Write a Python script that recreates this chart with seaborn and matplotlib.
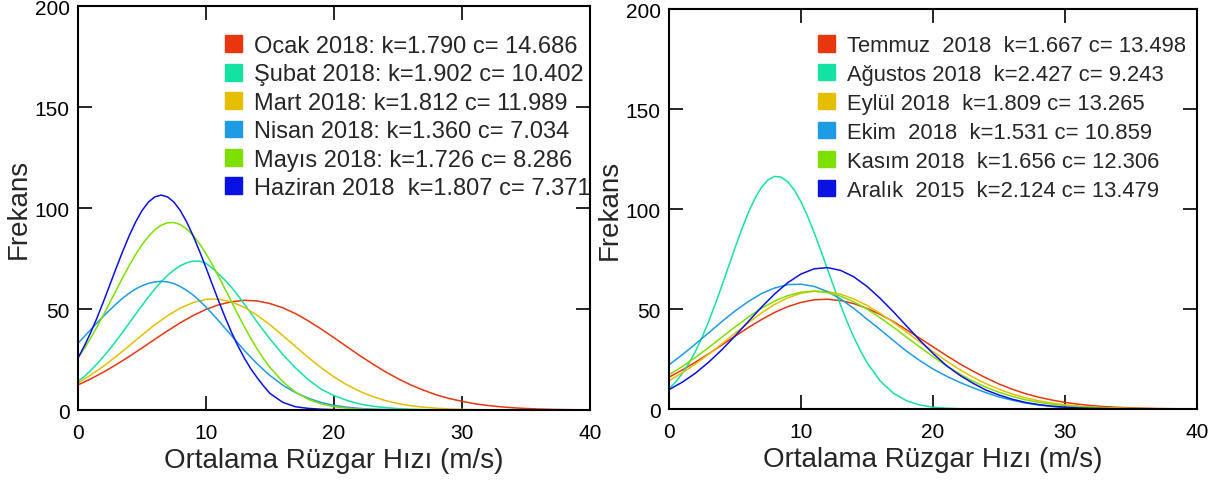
import matplotlib
matplotlib.use("Agg")
import matplotlib.pyplot as plt
from matplotlib.patches import Patch
import seaborn as sns
import pandas as pd

# ---------------- data ----------------
# integer grid (broad curves)
hiz = list(range(0, 41))
# finer grid: half steps up to 15, then integers (sharper curves)
hiz_ince = [0, 0.5, 1, 1.5, 2, 2.5, 3, 3.5, 4, 4.5, 5, 5.5, 6, 6.5, 7, 7.5, 8, 8.5, 9, 9.5,
            10, 10.5, 11, 11.5, 12, 12.5, 13, 13.5, 14, 14.5, 15,
            16, 17, 18, 19, 20, 21, 22, 23, 24, 25, 26, 27, 28, 29, 30,
            31, 32, 33, 34, 35, 36, 37, 38, 39, 40]

ocak = [12.4, 15.4, 18.8, 22.5, 26.5, 30.7, 35.0, 39.2, 43.2, 46.8, 49.8, 52.1, 53.6, 54.3, 54.0,
        52.7, 50.6, 47.7, 44.1, 40.1, 35.8, 31.4, 27.0, 22.9, 19.0, 15.5, 12.4, 9.8, 7.5, 5.7,
        4.3, 3.1, 2.25, 1.6, 1.1, 0.75, 0.5, 0.32, 0.2, 0.13, 0.08]
subat = [14.2, 16.6, 19.6, 22.9, 26.5, 30.3, 34.4, 38.6, 43.0, 47.4, 51.7, 55.9, 59.9, 63.5, 66.7,
         69.3, 71.4, 72.9, 73.7, 73.7, 72.6, 70.2, 67.3, 64.2, 60.7, 56.7, 52.4, 48.0, 43.5, 39.3,
         35.2, 27.5, 20.8, 15.0, 10.3, 7.1, 4.8, 3.0, 1.9, 1.2, 0.7, 0.4, 0.2, 0.1, 0.05,
         0, 0, 0, 0, 0, 0, 0, 0, 0, 0, 0]
mart = [13.4, 17.3, 21.7, 26.6, 31.8, 37.1, 42.2, 46.7, 50.5, 53.2, 54.8, 54.9, 53.5, 50.8, 46.9,
        42.2, 36.9, 31.4, 26.0, 20.9, 16.4, 12.5, 9.3, 6.7, 4.7, 3.2, 2.1, 1.4, 0.87, 0.53,
        0.32, 0.18, 0.1, 0.05, 0, 0, 0, 0, 0, 0, 0]
nisan = [33.0, 36.4, 39.8, 43.2, 46.5, 49.6, 52.6, 55.4, 57.8, 59.9, 61.5, 62.7, 63.4, 63.7, 63.4,
         62.6, 61.1, 59.2, 56.9, 54.1, 51.0, 47.6, 44.1, 40.4, 36.8, 33.1, 29.5, 26.1, 22.9, 19.9,
         17.1, 12.3, 8.6, 5.8, 3.7, 2.3, 1.4, 0.8, 0.45, 0.25, 0.13, 0.07,
         0, 0, 0, 0, 0, 0, 0, 0, 0, 0, 0, 0, 0, 0]
mayis = [25.7, 30.5, 35.7, 41.3, 47.2, 53.3, 59.5, 65.6, 71.5, 76.9, 81.8, 85.9, 89.2, 91.5, 92.7,
         92.8, 91.8, 89.6, 86.4, 82.3, 77.4, 71.9, 66.0, 59.8, 53.5, 47.3, 41.2, 35.5, 30.2, 25.4,
         21.1, 14.0, 8.8, 5.3, 3.0, 1.6, 0.9, 0.45, 0.2, 0.1,
         0, 0, 0, 0, 0, 0, 0, 0, 0, 0, 0, 0, 0, 0, 0, 0]
haziran = [25.7, 31.7, 38.4, 45.8, 53.8, 62.1, 70.5, 78.6, 86.2, 93.0, 98.7, 102.9, 105.5, 106.4, 105.5,
           102.9, 98.7, 93.0, 86.2, 78.6, 70.5, 62.1, 53.8, 45.8, 38.4, 31.7, 25.7, 20.4, 16.0, 11.9,
           8.2, 3.8, 1.6, 0.8, 0.4, 0.2, 0.1,
           0, 0, 0, 0, 0, 0, 0, 0, 0, 0, 0, 0, 0, 0, 0, 0, 0, 0, 0]

temmuz = [15.9, 19.5, 23.4, 27.6, 32.0, 36.4, 40.7, 44.7, 48.3, 51.2, 53.3, 54.6, 54.9, 54.2, 52.7,
          50.3, 47.3, 43.7, 39.6, 35.4, 31.1, 26.8, 22.7, 19.0, 15.6, 12.5, 9.9, 7.7, 5.9, 4.5,
          3.3, 2.4, 1.7, 1.2, 0.84, 0.57, 0.38, 0.25, 0.16, 0.1, 0.06]
agustos = [10.1, 13.5, 17.7, 22.8, 28.8, 35.8, 43.7, 52.4, 61.6, 71.1, 80.6, 89.7, 98.1, 105.2, 110.8,
           114.6, 116.3, 115.9, 113.6, 109.4, 103.6, 96.4, 88.1, 79.2, 70.0, 60.8, 51.9, 43.5, 35.9, 29.1,
           23.2, 14.0, 7.9, 4.1, 2.0, 0.9, 0.4, 0.15, 0.06,
           0, 0, 0, 0, 0, 0, 0, 0, 0, 0, 0, 0, 0, 0, 0, 0, 0]
eylul = [14.2, 18.1, 22.5, 27.4, 32.6, 37.9, 43.1, 48.0, 52.3, 55.6, 57.9, 58.9, 58.7, 57.4, 55.0,
         51.8, 47.8, 43.3, 38.5, 33.5, 28.7, 24.1, 19.8, 16.0, 12.7, 9.9, 7.5, 5.6, 4.1, 3.0,
         2.1, 1.5, 1.0, 0.65, 0.42, 0.27, 0.17, 0.1, 0.06, 0.04, 0.02]
ekim = [22.1, 27.1, 32.5, 38.1, 43.7, 49.0, 53.7, 57.7, 60.5, 62.2, 62.4, 61.3, 58.7, 55.0, 50.3,
        44.9, 39.7, 34.2, 28.9, 24.2, 20.0, 16.5, 13.4, 10.7, 8.2, 6.0, 4.4, 3.0, 2.0, 1.3,
        0.8, 0.5, 0.3, 0.18, 0.1, 0.06, 0.03, 0, 0, 0, 0]
kasim = [17.1, 21.2, 25.8, 30.7, 35.9, 41.0, 45.9, 50.3, 54.0, 56.7, 58.4, 58.9, 58.2, 56.4, 53.6,
         50.0, 45.6, 40.9, 35.9, 31.0, 26.2, 21.7, 17.6, 14.0, 10.9, 8.4, 6.3, 4.6, 3.35, 2.4,
         1.65, 1.1, 0.75, 0.5, 0.32, 0.2, 0.13, 0.08, 0.05, 0.03, 0.02]
aralik = [9.7, 13.4, 17.9, 23.4, 29.6, 36.5, 43.7, 50.9, 57.5, 63.2, 67.5, 70.1, 70.7, 69.3, 66.1,
          61.3, 55.3, 48.6, 41.5, 34.4, 27.8, 21.8, 17.0, 13.0, 9.5, 7.0, 4.9, 3.3, 2.2, 1.4,
          0.9, 0.55, 0.33, 0.2, 0.11, 0.06, 0.03, 0, 0, 0, 0]

labels_left = ["Ocak 2018: k=1.790 c= 14.686",
               "Şubat 2018: k=1.902 c= 10.402",
               "Mart 2018: k=1.812 c= 11.989",
               "Nisan 2018: k=1.360 c= 7.034",
               "Mayıs 2018: k=1.726 c= 8.286",
               "Haziran 2018  k=1.807 c= 7.371"]
labels_right = ["Temmuz  2018  k=1.667 c= 13.498",
                "Ağustos 2018  k=2.427 c= 9.243",
                "Eylül 2018  k=1.809 c= 13.265",
                "Ekim  2018  k=1.531 c= 10.859",
                "Kasım 2018  k=1.656 c= 12.306",
                "Aralık  2015  k=2.124 c= 13.479"]

colors = ["#E8360E", "#14E2A2", "#E6BE00", "#1D9BE5", "#7EE000", "#0A12E2"]

x_ticks = [0, 10, 20, 30, 40]
y_ticks = [0, 50, 100, 150, 200]
x_label = "Ortalama Rüzgar Hızı (m/s)"
y_label = "Frekans"

# ---------------- style ----------------
sns.set_style("ticks")
plt.rcParams["font.family"] = ["Liberation Sans", "DejaVu Sans"]

fig = plt.figure(figsize=(12.2, 4.81), dpi=100)
ax1 = fig.add_axes([0.0639, 0.1455, 0.4197, 0.8399])
ax2 = fig.add_axes([0.5484, 0.1476, 0.4327, 0.8316])


def long_df(series, labels):
    rows = []
    for (xs, vals), lab in zip(series, labels):
        for xv, yv in zip(xs, vals):
            rows.append({"hiz": xv, "frekans": yv, "seri": lab})
    return pd.DataFrame(rows)


def draw(ax, series, labels, leg_x, leg_y, leg_fs, leg_sp):
    df = long_df(series, labels)
    sns.lineplot(data=df, x="hiz", y="frekans", hue="seri", hue_order=labels,
                 palette=colors, linewidth=1.1, legend=False, ax=ax)
    ax.set_xlim(0, 40)
    ax.set_ylim(0, 200)
    ax.set_xticks(x_ticks)
    ax.set_yticks(y_ticks)
    ax.set_xlabel(x_label, fontsize=20, labelpad=4)
    ax.set_ylabel(y_label, fontsize=20, labelpad=2)
    ax.tick_params(direction="in", top=True, right=True, length=10, width=1.2,
                   labelsize=15, pad=6, colors="black")
    ax.tick_params(axis="x", pad=9)
    for sp in ax.spines.values():
        sp.set_linewidth(1.5)
        sp.set_color("black")
    handles = [Patch(facecolor=c, edgecolor=c) for c in colors]
    hl = 0.72 * 17 / leg_fs
    ax.legend(handles, labels, loc="upper left", bbox_to_anchor=(leg_x, leg_y),
              frameon=False, fontsize=leg_fs, handlelength=hl, handleheight=hl,
              handletextpad=0.5 * 17 / leg_fs, labelspacing=leg_sp,
              borderpad=0, borderaxespad=0)


draw(ax1, [(hiz, ocak), (hiz_ince, subat), (hiz, mart), (hiz_ince, nisan),
           (hiz_ince, mayis), (hiz_ince, haziran)], labels_left, 0.287, 0.928, 17, 0.27)
draw(ax2, [(hiz, temmuz), (hiz_ince, agustos), (hiz, eylul), (hiz, ekim),
           (hiz, kasim), (hiz, aralik)], labels_right, 0.282, 0.935, 15.8, 0.36)

fig.savefig("out.png", dpi=100)
